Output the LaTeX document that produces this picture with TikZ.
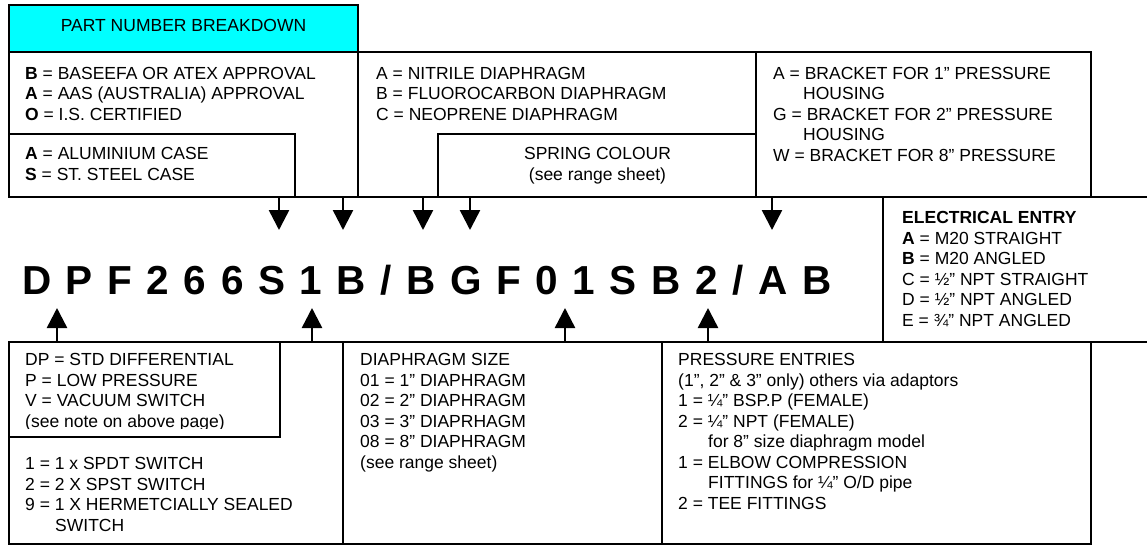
\documentclass[tikz,border=0pt]{standalone}
\usepackage{fontspec}
\setmainfont{Liberation Sans}
\usetikzlibrary{arrows.meta}
\definecolor{titlecyan}{RGB}{0,255,255}
\newcommand\bodyfont{\fontsize{17.5}{20.5}\selectfont}
\newcommand\pnfont{\fontsize{40.5}{48}\selectfont\bfseries\addfontfeatures{LetterSpace=36}}
\begin{document}
\begin{tikzpicture}[x=1pt,y=-1pt,
  frame/.style={line width=2.5pt, line cap=rect, line join=miter},
  txt/.style={anchor=north west, inner sep=0pt, align=left, font=\bodyfont, yshift=14.35pt},
  ctxt/.style={anchor=north, inner sep=0pt, align=center, font=\bodyfont, yshift=14.35pt},
  pointer/.style={-{Triangle[length=20pt,width=20pt]}, line width=2.5pt}]
\fill[white] (0,0) rectangle (1147,547);
\useasboundingbox (0,0) rectangle (1147,547);
% title
\draw[frame, fill=titlecyan] (9,5) rectangle (358,52);
\node[anchor=base, inner sep=0pt, font=\bodyfont] (title) at (183.5,31.5) {PART NUMBER BREAKDOWN};
% frames
\draw[frame] (9,52) -- (1091,52);
\draw[frame] (9,52) -- (9,197);
\draw[frame] (358,52) -- (358,197);
\draw[frame] (756,52) -- (756,197);
\draw[frame] (1091,52) -- (1091,197);
\draw[frame] (9,134) -- (295,134) -- (295,197);
\draw[frame] (438,197) -- (438,134) -- (756,134);
\draw[frame] (9,197) -- (1147,197);
\draw[frame] (883,197) -- (883,342);
\draw[frame] (9,342) -- (1147,342);
\draw[frame] (9,342) -- (9,544) -- (1091,544) -- (1091,342);
\draw[frame] (343,342) -- (343,544);
\draw[frame] (662,342) -- (662,544);
\draw[frame] (9,437) -- (280,437) -- (280,342);
% texts top
\node[txt] (approval) at (25,79) {\strut\textbf{B} = BASEEFA OR ATEX APPROVAL\\\textbf{A} = AAS (AUSTRALIA) APPROVAL\\\textbf{O} = I.S. CERTIFIED};
\node[txt] (case) at (25,159.5) {\strut\textbf{A} = ALUMINIUM CASE\\\textbf{S} = ST. STEEL CASE};
\node[txt] (diaphragm) at (376,79) {\strut A = NITRILE DIAPHRAGM\\B = FLUOROCARBON DIAPHRAGM\\C = NEOPRENE DIAPHRAGM};
\node[ctxt] (spring) at (597.5,159.5) {\strut SPRING COLOUR\\(see range sheet)};
\node[txt] (bracket) at (773,79) {\strut A = BRACKET FOR 1" PRESSURE\\\hspace*{30pt}HOUSING\\G = BRACKET FOR 2" PRESSURE\\\hspace*{30pt}HOUSING\\W = BRACKET FOR 8" PRESSURE};
% electrical
\node[txt] (electrical) at (902,223.5) {\strut\textbf{ELECTRICAL ENTRY}\\\textbf{A} = M20 STRAIGHT\\\textbf{B} = M20 ANGLED\\C = ½" NPT STRAIGHT\\D = ½" NPT ANGLED\\E = ¾" NPT ANGLED};
% part number
\node[anchor=base west, inner sep=0pt, font=\pnfont] (pn) at (22,294) {DPF266S1B/BGF01SB2/AB};
% bottom texts
\begin{scope}
\clip (0,0) rectangle (1147,428.5);
\node[txt] (type) at (25,365.5) {\strut DP = STD DIFFERENTIAL\\P = LOW PRESSURE\\V = VACUUM SWITCH\\(see note on above page)};
\end{scope}
\node[txt] (switch) at (25,469.5) {\strut 1 = 1 x SPDT SWITCH\\2 = 2 X SPST SWITCH\\9 = 1 X HERMETCIALLY SEALED\\\hspace*{30pt}SWITCH};
\node[txt] (size) at (360,365.5) {\strut DIAPHRAGM SIZE\\01 = 1" DIAPHRAGM\\02 = 2" DIAPHRAGM\\03 = 3" DIAPRHAGM\\08 = 8" DIAPHRAGM\\(see range sheet)};
\node[txt] (entries) at (678,365.5) {\strut PRESSURE ENTRIES\\(1", 2" \& 3" only) others via adaptors\\1 = ¼" BSP.P (FEMALE)\\2 = ¼" NPT (FEMALE)\\\hspace*{30pt}for 8" size diaphragm model\\1 = ELBOW COMPRESSION\\\hspace*{30pt}FITTINGS for ¼" O/D pipe\\2 = TEE FITTINGS};
% arrow coordinates
\foreach \n/\x in {a/279,b/343,c/423,d/470,e/772}{
  \coordinate (d\n s) at (\x,197);
  \coordinate (d\n t) at (\x,230);
}
\foreach \n/\x in {a/57,b/312,c/565,d/708}{
  \coordinate (u\n s) at (\x,342);
  \coordinate (u\n t) at (\x,308);
}
\foreach \n in {a,b,c,d,e}{\draw[pointer] (d\n s) -- (d\n t);}
\foreach \n in {a,b,c,d}{\draw[pointer] (u\n s) -- (u\n t);}
\end{tikzpicture}
\end{document}
